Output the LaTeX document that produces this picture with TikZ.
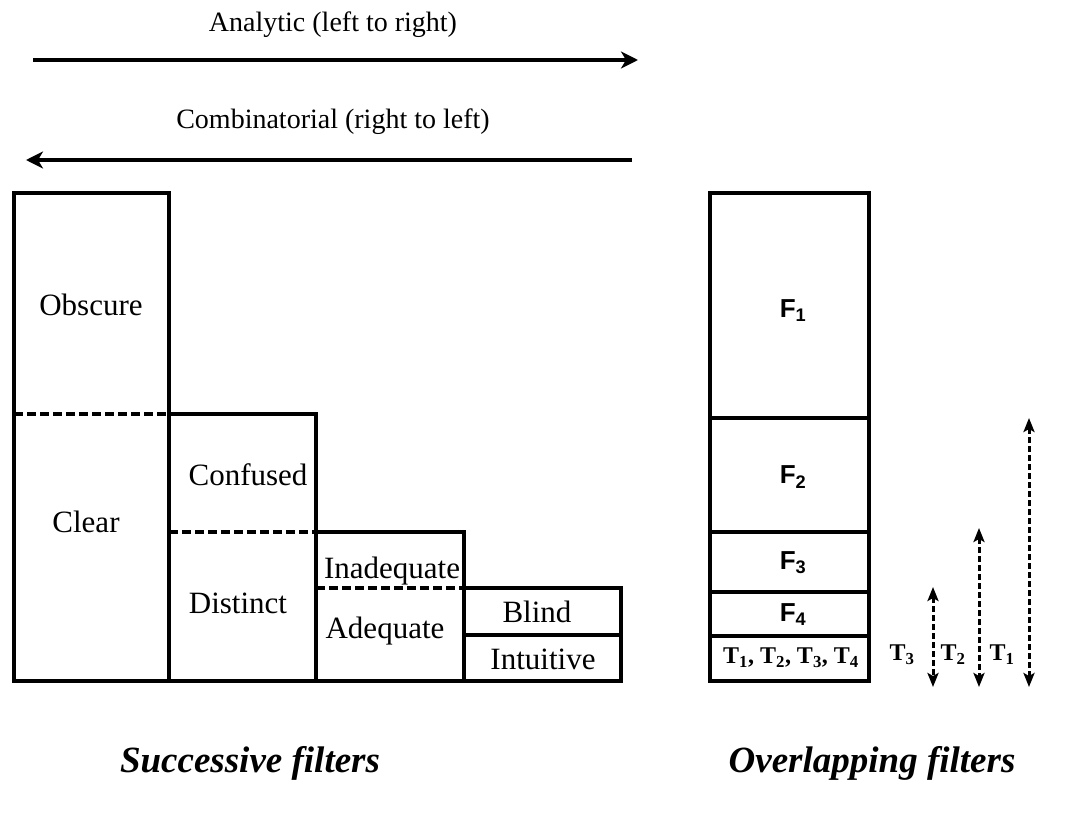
\documentclass[tikz,border=0pt]{standalone}
\usepackage{fontspec}
\setmainfont{Liberation Serif}
\newfontfamily\sansf{Liberation Sans}
\usetikzlibrary{arrows.meta}

\begin{document}
\begin{tikzpicture}[x=1pt,y=-1pt,
  frame/.style={draw, line width=3.6pt, line join=miter},
  divider/.style={line width=3.2pt, dash pattern=on 9pt off 4pt},
  thinrule/.style={line width=3.2pt},
  lbl/.style={font=\fontsize{31}{33}\selectfont, inner sep=0pt},
  head/.style={font=\fontsize{28}{30}\selectfont, inner sep=0pt},
  flbl/.style={font=\sansf\bfseries\fontsize{26}{28}\selectfont, inner sep=0pt},
  tlbl/.style={font=\bfseries\fontsize{24}{26}\selectfont, inner sep=0pt},
  caption/.style={font=\bfseries\itshape\fontsize{37}{39}\selectfont, inner sep=0pt},
  dirarrow/.style={line width=3.3pt, -{Stealth[length=17pt,width=17pt,inset=5pt]}},
  spanarrow/.style={line width=3pt, dash pattern=on 6pt off 3pt,
    {Stealth[length=14pt,width=11pt,inset=3pt]}-{Stealth[length=14pt,width=11pt,inset=3pt]}},
]
\useasboundingbox (0,0) rectangle (1067,832);

% direction arrows
\coordinate (a0) at (33,60);
\coordinate (a1) at (638,60);
\coordinate (c0) at (632,160);
\coordinate (c1) at (26,160);
\draw[dirarrow] (a0) -- (a1);
\draw[dirarrow] (c0) -- (c1);
\node[head] (analytic) at (333,25) {Analytic (left to right)};
\node[head] (combin) at (333,122) {Combinatorial (right to left)};

% successive filters: stepped columns
\draw[frame] (14,681) -- (14,193) -- (169,193) -- (169,681);
\draw[frame] (169,414) -- (316,414) -- (316,681);
\draw[frame] (316,532) -- (464,532) -- (464,681);
\draw[frame] (464,588) -- (621,588) -- (621,681);
\draw[frame] (12.2,681) -- (622.8,681);
\draw[thinrule] (464,635) -- (621,635);
\draw[divider] (14,414) -- (169,414);
\draw[divider] (169,532) -- (316,532);
\draw[divider] (316,588) -- (464,588);

\node[lbl] (obscure) at (91,305) {Obscure};
\node[lbl] (clear) at (86,522) {Clear};
\node[lbl] (confused) at (248,475) {Confused};
\node[lbl] (distinct) at (238,603) {Distinct};
\node[lbl] (inadequate) at (392,571) {Inadequate};
\node[lbl] (adequate) at (385,631) {Adequate};
\node[lbl] (blind) at (537,612) {Blind};
\node[lbl] (intuitive) at (543,659) {Intuitive};

% overlapping filters: single column
\draw[frame] (710,193) rectangle (869,681);
\draw[thinrule] (710,418) -- (869,418);
\draw[thinrule] (710,532) -- (869,532);
\draw[thinrule] (710,592) -- (869,592);
\draw[frame] (710,636) -- (869,636);

\node[flbl] (f1) at (793,311) {F\textsubscript{1}};
\node[flbl] (f2) at (793,477) {F\textsubscript{2}};
\node[flbl] (f3) at (793,563) {F\textsubscript{3}};
\node[flbl] (f4) at (793,615) {F\textsubscript{4}};
\node[tlbl] (tall) at (791,658) {T\textsubscript{1}, T\textsubscript{2}, T\textsubscript{3}, T\textsubscript{4}};

% extent of each T
\coordinate (t3top) at (933,587);
\coordinate (t3bot) at (933,687);
\coordinate (t2top) at (979,528);
\coordinate (t2bot) at (979,687);
\coordinate (t1top) at (1029,418);
\coordinate (t1bot) at (1029,687);
\draw[spanarrow] (t3top) -- (t3bot);
\draw[spanarrow] (t2top) -- (t2bot);
\draw[spanarrow] (t1top) -- (t1bot);
\node[tlbl] (t3) at (902,655) {T\textsubscript{3}};
\node[tlbl] (t2) at (953,655) {T\textsubscript{2}};
\node[tlbl] (t1) at (1002,655) {T\textsubscript{1}};

% captions
\node[caption] (succ) at (250,763) {Successive filters};
\node[caption] (over) at (872,763) {Overlapping filters};
\end{tikzpicture}
\end{document}
